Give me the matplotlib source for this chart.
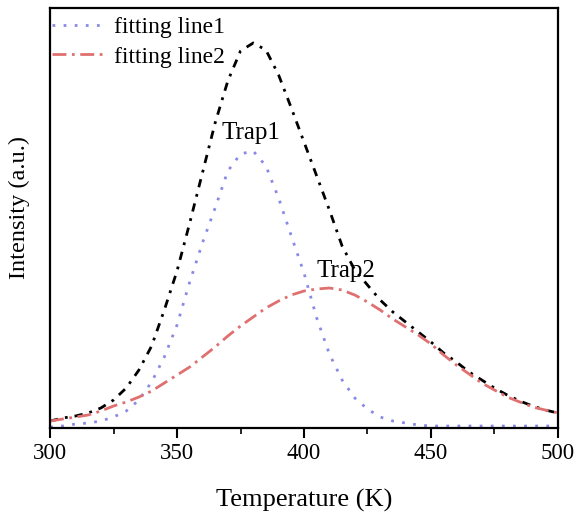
import matplotlib
matplotlib.use("Agg")
import matplotlib.pyplot as plt
from matplotlib.ticker import MultipleLocator

plt.rcParams['font.family'] = ['Liberation Serif', 'DejaVu Serif']

temperature = list(range(300, 505, 5))
fit1 = [1, 2, 4, 5, 7, 11, 17, 28, 46, 71, 103, 146, 185, 220, 257, 274, 277,
        262, 230, 192, 155, 110, 74, 48, 30, 19, 11, 7, 5, 3, 2, 2, 2, 2, 2,
        2, 2, 2, 2, 2, 2]
fit2 = [7, 9, 11, 13, 17, 22, 26, 31, 37, 45, 53, 61, 71, 81, 92, 102, 111,
        120, 127, 133, 137, 139, 140, 138, 133, 126, 118, 109, 101, 93, 84,
        73, 63, 54, 45, 38, 31, 26, 21, 18, 15]
total = [7, 10, 12, 15, 20, 28, 40, 58, 82, 118, 157, 205, 255, 305, 347,
         377, 385, 378, 353, 320, 286, 252, 218, 182, 158, 143, 128, 116, 106,
         96, 86, 75, 66, 56, 48, 40, 33, 27, 22, 18, 15]

fig = plt.figure(figsize=(5.79, 5.18), dpi=100)
ax = fig.add_axes([0.0864, 0.1737, 0.8773, 0.8109])

ax.plot(temperature, total, color='black', lw=2.0,
        linestyle=(0, (3, 2.5, 1, 2.5)), solid_joinstyle='round')
ax.plot(temperature, fit1, color='#8a8ae6', lw=2.0,
        linestyle=(0, (1, 3)), label='fitting line1')
ax.plot(temperature, fit2, color='#e07070', lw=2.0,
        linestyle=(0, (5, 2, 1, 2)), label='fitting line2')

ax.set_xlim(300, 500)
ax.set_ylim(0, 420)
ax.xaxis.set_major_locator(MultipleLocator(50))
ax.xaxis.set_minor_locator(MultipleLocator(25))
ax.set_yticks([])
ax.tick_params(axis='x', which='major', direction='out', length=7, width=1.5,
               labelsize=16.5, pad=4)
ax.tick_params(axis='x', which='minor', direction='out', length=4, width=1.2)
for s in ax.spines.values():
    s.set_linewidth(1.6)

ax.set_xlabel('Temperature (K)', fontsize=19)
ax.xaxis.set_label_coords(0.5, -0.145)
ax.set_ylabel('Intensity (a.u.)', fontsize=17.5)
ax.yaxis.set_label_coords(-0.039, 0.526)

ax.text(379, 295, 'Trap1', fontsize=18, ha='center', va='center')
ax.text(416.5, 157, 'Trap2', fontsize=18, ha='center', va='center')

ax.legend(loc='upper left', frameon=False, fontsize=17, handlelength=2.2,
          handletextpad=0.4, borderaxespad=0.0, borderpad=0.35,
          labelspacing=0.35, bbox_to_anchor=(-0.012, 1.0))

fig.savefig('out.png', dpi=100)
